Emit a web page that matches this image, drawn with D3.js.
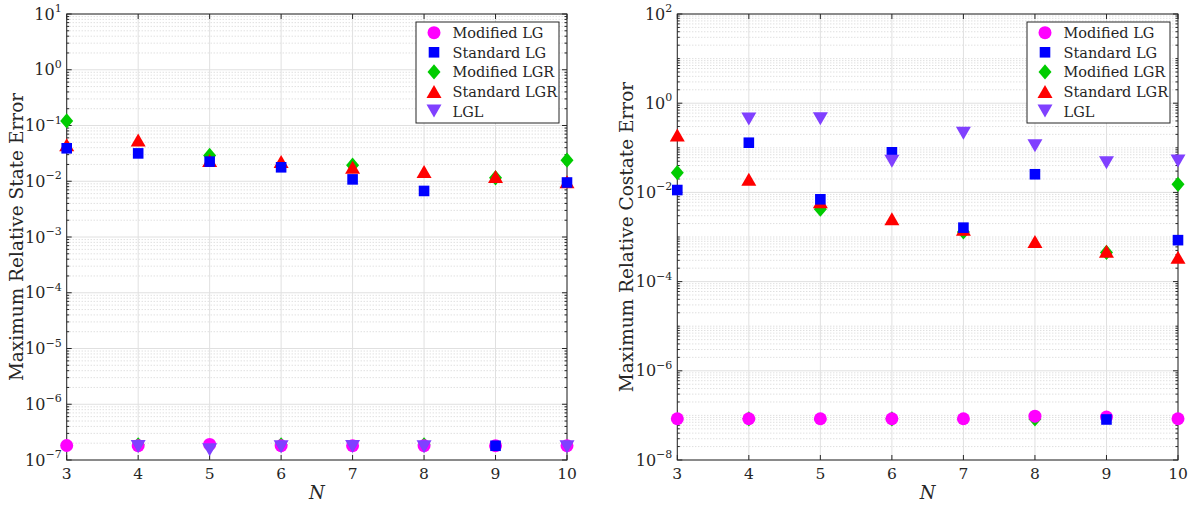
<!DOCTYPE html>
<html>
<head>
<meta charset="utf-8">
<script src="https://cdn.jsdelivr.net/npm/d3@7"></script>
<style>
  body { margin: 0; background: #fff; }
</style>
</head>
<body>
<div id="chart"></div>
<script>
const width = 1190;
const height = 508;
const fontFamily = "'DejaVu Serif', 'Liberation Serif', serif";

// N values on the x axis
const nValues = [3, 4, 5, 6, 7, 8, 9, 10];
const seriesNames = ['Modified LG', 'Standard LG', 'Modified LGR', 'Standard LGR', 'LGL'];

// Maximum relative state error (left panel), null = not shown
const stateModLG  = [1.82e-7, 1.8e-7, 1.9e-7, 1.8e-7, 1.8e-7, 1.8e-7, 1.8e-7, 1.8e-7];
const stateStdLG  = [0.039, 0.0316, 0.0225, 0.0178, 0.0108, 0.0067, 1.8e-7, 0.0095];
const stateModLGR = [0.121, 1.87e-7, 0.029, 1.87e-7, 0.0194, 1.87e-7, 0.0115, 0.0239];
const stateStdLGR = [0.045, 0.0547, 0.0235, 0.0225, 0.0178, 0.0150, 0.0122, 0.0098];
const stateLGL    = [null, 1.75e-7, 1.53e-7, 1.72e-7, 1.75e-7, 1.72e-7, null, 1.72e-7];

// Maximum relative costate error (right panel)
const costateModLG  = [8.4e-8, 8.4e-8, 8.4e-8, 8.4e-8, 8.4e-8, 9.6e-8, 9.2e-8, 8.4e-8];
const costateStdLG  = [0.0113, 0.130, 0.0070, 0.0793, 0.00162, 0.0255, 8.1e-8, 0.00085];
const costateModLGR = [0.0277, 8.4e-8, 0.0042, 8.4e-8, 0.0013, 8.3e-8, 0.00045, 0.0152];
const costateStdLGR = [0.194, 0.0197, 0.0062, 0.00257, 0.0015, 0.00079, 0.00048, 0.00035];
const costateLGL    = [null, 0.443, 0.45, 0.0498, 0.211, 0.111, 0.0463, 0.0506];

const colors = {
  'Modified LG': '#ff00ff',
  'Standard LG': '#0000ff',
  'Modified LGR': '#00cc00',
  'Standard LGR': '#ff0000',
  'LGL': '#8040ff'
};

// marker paths centered at 0,0
const markerPath = {
  'Modified LG': d3.symbol(d3.symbolCircle, Math.PI * 6.5 * 6.5)(),
  'Standard LG': 'M-5.3,-5.3H5.3V5.3H-5.3Z',
  'Modified LGR': 'M0,-7.6L6.5,0L0,7.6L-6.5,0Z',
  'Standard LGR': 'M0,-6.5L7.5,6.5L-7.5,6.5Z',
  'LGL': 'M0,6.5L7.5,-6.5L-7.5,-6.5Z'
};
// drawing order (later on top)
const drawOrder = ['Modified LGR', 'Modified LG', 'Standard LGR', 'Standard LG', 'LGL'];

const svg = d3.select('#chart').append('svg')
  .attr('width', width)
  .attr('height', height)
  .attr('font-family', fontFamily)
  .style('font-family', fontFamily);

const supMinus = e => (e < 0 ? '\u2212' + (-e) : '' + e);

function drawPanel(cfg) {
  const x = d3.scaleLinear().domain([3, 10]).range([cfg.left, cfg.right]);
  const y = d3.scaleLog().domain(cfg.yDomain).range([460, 14]);
  const g = svg.append('g').attr('class', 'panel');
  const e0 = Math.round(Math.log10(cfg.yDomain[0]));
  const e1 = Math.round(Math.log10(cfg.yDomain[1]));
  const allDecades = d3.range(e0, e1 + 1);
  // labelled (major) decades, every decade or every other one
  const decades = allDecades.filter(e => (e - e0) % cfg.decadeStep === 0);
  const minors = [];
  allDecades.slice(0, -1).forEach(e => {
    for (let k = 1; k <= 9; k++) {
      if (k === 1 && decades.includes(e)) continue;
      minors.push(k * Math.pow(10, e));
    }
  });

  // minor grid
  g.append('g').selectAll('line').data(minors).join('line')
    .attr('x1', cfg.left).attr('x2', cfg.right)
    .attr('y1', d => y(d)).attr('y2', d => y(d))
    .attr('stroke', '#c8c8c8').attr('stroke-width', 0.8)
    .attr('stroke-dasharray', '1,2');
  // major grid
  g.append('g').selectAll('line').data(decades).join('line')
    .attr('x1', cfg.left).attr('x2', cfg.right)
    .attr('y1', d => y(Math.pow(10, d))).attr('y2', d => y(Math.pow(10, d)))
    .attr('stroke', '#e0e0e0').attr('stroke-width', 1);
  g.append('g').selectAll('line').data(nValues).join('line')
    .attr('x1', d => x(d)).attr('x2', d => x(d))
    .attr('y1', 14).attr('y2', 460)
    .attr('stroke', '#e0e0e0').attr('stroke-width', 1);

  // box
  g.append('rect')
    .attr('x', cfg.left).attr('y', 14)
    .attr('width', cfg.right - cfg.left).attr('height', 446)
    .attr('fill', 'none').attr('stroke', '#262626').attr('stroke-width', 1);

  // ticks (inward)
  const ticks = g.append('g').attr('stroke', '#262626').attr('stroke-width', 1);
  nValues.forEach(n => {
    ticks.append('line').attr('x1', x(n)).attr('x2', x(n)).attr('y1', 460).attr('y2', 455);
    ticks.append('line').attr('x1', x(n)).attr('x2', x(n)).attr('y1', 14).attr('y2', 19);
  });
  decades.forEach(e => {
    const yy = y(Math.pow(10, e));
    ticks.append('line').attr('x1', cfg.left).attr('x2', cfg.left + 5).attr('y1', yy).attr('y2', yy);
    ticks.append('line').attr('x1', cfg.right).attr('x2', cfg.right - 5).attr('y1', yy).attr('y2', yy);
  });
  minors.forEach(v => {
    const yy = y(v);
    ticks.append('line').attr('x1', cfg.left).attr('x2', cfg.left + 2.5).attr('y1', yy).attr('y2', yy);
    ticks.append('line').attr('x1', cfg.right).attr('x2', cfg.right - 2.5).attr('y1', yy).attr('y2', yy);
  });

  // tick labels
  g.append('g').selectAll('text').data(nValues).join('text')
    .attr('x', d => x(d)).attr('y', 479)
    .attr('text-anchor', 'middle')
    .attr('font-size', 15.5).attr('fill', '#262626')
    .text(d => d);
  const yl = g.append('g').selectAll('text').data(decades).join('text')
    .attr('x', cfg.left - 5).attr('y', d => y(Math.pow(10, d)) + 5.5)
    .attr('text-anchor', 'end')
    .attr('font-size', 16).attr('fill', '#262626');
  yl.append('tspan').text('10');
  yl.append('tspan').attr('dy', -7.5).attr('font-size', 11).text(d => supMinus(d));

  // axis labels
  g.append('text')
    .attr('x', (cfg.left + cfg.right) / 2).attr('y', 499)
    .attr('text-anchor', 'middle')
    .attr('font-size', 18).attr('font-style', 'italic').attr('fill', '#262626')
    .text('N');
  g.append('text')
    .attr('transform', `translate(${cfg.labelX},237) rotate(-90)`)
    .attr('text-anchor', 'middle')
    .attr('font-size', 18.5).attr('fill', '#262626')
    .text(cfg.yLabel);

  // markers
  drawOrder.forEach(name => {
    const vals = cfg.series[name];
    const pts = nValues.map((n, i) => ({n, v: vals[i]})).filter(d => d.v != null);
    g.append('g').selectAll('path').data(pts).join('path')
      .attr('d', markerPath[name])
      .attr('transform', d => `translate(${x(d.n)},${y(d.v)})`)
      .attr('fill', colors[name]);
  });

  // legend
  const lg = g.append('g').attr('transform', `translate(${cfg.legendX},22)`);
  lg.append('rect')
    .attr('width', 143).attr('height', 101)
    .attr('fill', '#fff').attr('stroke', '#262626').attr('stroke-width', 1);
  seriesNames.forEach((name, i) => {
    const ly = 10.7 + i * 19.6;
    lg.append('path').attr('d', markerPath[name])
      .attr('transform', `translate(18,${ly})`)
      .attr('fill', colors[name]);
    lg.append('text')
      .attr('x', 36.5).attr('y', ly + 5.5)
      .attr('font-size', 14.5).attr('fill', '#262626')
      .text(name);
  });
}

drawPanel({
  left: 66.7, right: 567, labelX: 23, legendX: 416,
  yDomain: [1e-7, 10], decadeStep: 1,
  yLabel: 'Maximum Relative State Error',
  series: {
    'Modified LG': stateModLG, 'Standard LG': stateStdLG,
    'Modified LGR': stateModLGR, 'Standard LGR': stateStdLGR, 'LGL': stateLGL
  }
});

drawPanel({
  left: 677.3, right: 1178, labelX: 633, legendX: 1027,
  yDomain: [1e-8, 100], decadeStep: 2,
  yLabel: 'Maximum Relative Costate Error',
  series: {
    'Modified LG': costateModLG, 'Standard LG': costateStdLG,
    'Modified LGR': costateModLGR, 'Standard LGR': costateStdLGR, 'LGL': costateLGL
  }
});
</script>
</body>
</html>
